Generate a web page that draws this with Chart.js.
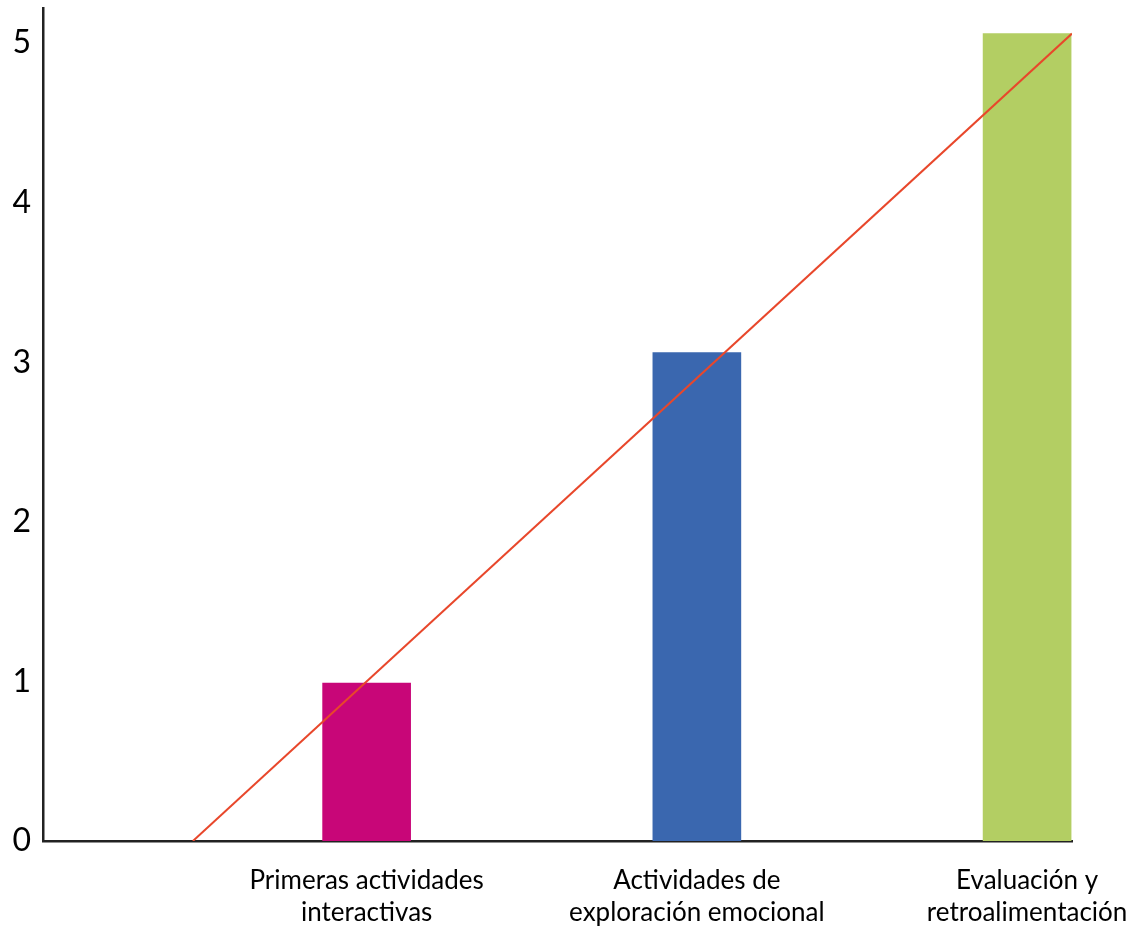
<!DOCTYPE html>
<html>
<head>
<meta charset="utf-8">
<script src="https://cdn.jsdelivr.net/npm/chart.js@4.4.1/dist/chart.umd.min.js"></script>
<style>
  html, body { margin: 0; padding: 0; background: #ffffff; }
  #wrap { width: 1130px; height: 926px; position: relative; }
</style>
</head>
<body>
<div id="wrap"><canvas id="c"></canvas></div>
<script>
// ---- data ----
const categories = [
  ["Primeras actividades", "interactivas"],
  ["Actividades de", "exploración emocional"],
  ["Evaluación y", "retroalimentación"]
];
const categoryPositions = [1, 2, 3];
const barValues = [0.99, 3.06, 5.06];
const barColors = ["#C80678", "#3A67AF", "#B3CE63"];
const trendX = [0.474, 3.136];
const trendY = [0, 5.06];
const yTicks = [0, 1, 2, 3, 4, 5];

const FONT = "Lato, 'Open Sans', sans-serif";

const barData = categoryPositions.map((x, i) => ({ x: x, y: barValues[i] }));
const trendData = trendX.map((x, i) => ({ x: x, y: trendY[i] }));

new Chart(document.getElementById('c'), {
  type: 'bar',
  data: {
    datasets: [
      {
        type: 'line',
        data: trendData,
        borderColor: '#E8472B',
        borderWidth: 2,
        pointRadius: 0,
        fill: false,
        tension: 0,
        order: 0
      },
      {
        type: 'bar',
        data: barData,
        backgroundColor: barColors,
        borderWidth: 0,
        barThickness: 88,
        order: 1
      }
    ]
  },
  options: {
    responsive: true,
    maintainAspectRatio: false,
    animation: false,
    layout: { padding: { top: 8, right: 58, left: 0, bottom: 0 } },
    plugins: { legend: { display: false }, tooltip: { enabled: false } },
    scales: {
      x: {
        type: 'linear',
        offset: false,
        min: 0.02,
        max: 3.136,
        grid: { display: false, drawTicks: false, offset: false },
        border: { display: true, color: '#222222', width: 2.5 },
        afterBuildTicks: (axis) => { axis.ticks = categoryPositions.map(v => ({ value: v })); },
        afterFit: (axis) => { axis.height = 85; axis.paddingLeft = 0; axis.paddingRight = 0; },
        ticks: {
          autoSkip: false,
          maxRotation: 0,
          padding: 24,
          color: '#000000',
          font: { family: FONT, size: 26, lineHeight: 1.22 },
          callback: (v) => {
            const i = categoryPositions.indexOf(v);
            return i >= 0 ? categories[i] : '';
          }
        }
      },
      y: {
        type: 'linear',
        min: 0,
        max: 5.22,
        grid: { display: false, drawTicks: false },
        border: { display: true, color: '#222222', width: 2.5 },
        afterBuildTicks: (axis) => { axis.ticks = yTicks.map(v => ({ value: v })); },
        afterFit: (axis) => { axis.width = 43; axis.paddingTop = 0; axis.paddingBottom = 0; },
        ticks: {
          padding: 12,
          color: '#000000',
          font: { family: FONT, size: 32 },
          callback: (v) => String(v)
        }
      }
    }
  }
});
</script>
</body>
</html>
